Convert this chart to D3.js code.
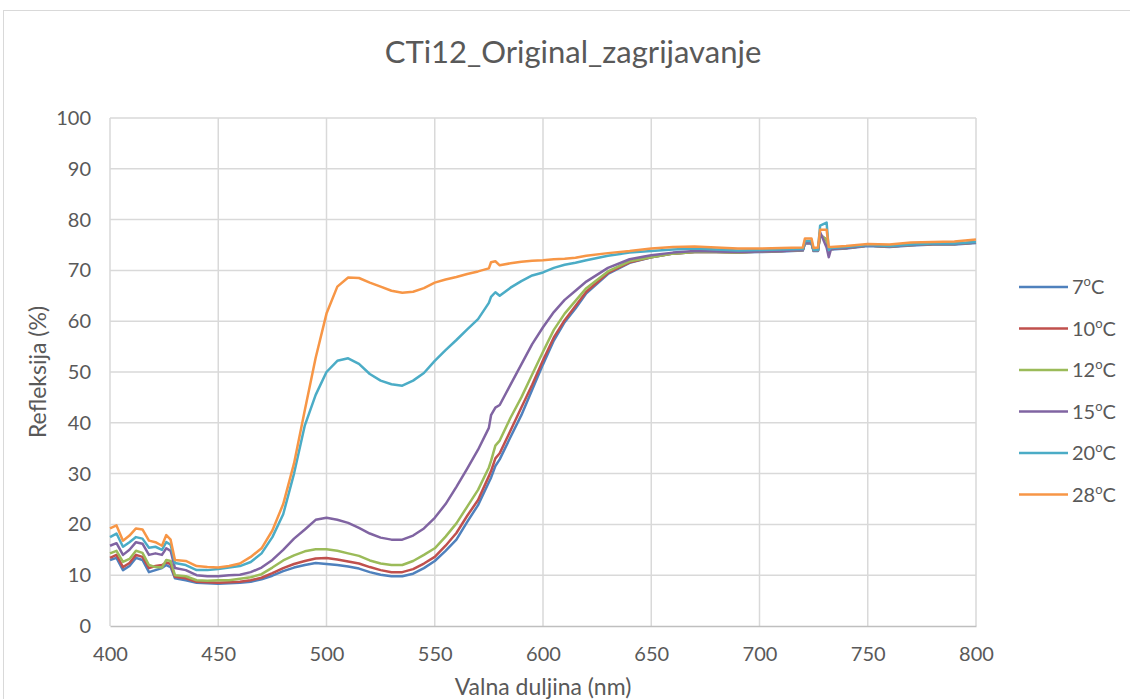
<!DOCTYPE html>
<html>
<head>
<meta charset="utf-8">
<script src="https://cdn.jsdelivr.net/npm/d3@7"></script>
<style>
  body { margin: 0; background: #fff; }
  text { font-family: Lato, "Open Sans", sans-serif; fill: #595959; }
</style>
</head>
<body>
<div id="chart"></div>
<script>
var wavelengths = [400, 403, 406, 409, 412, 415, 418, 421, 424, 426, 428, 430, 435, 440, 445, 450, 455, 460, 465, 470,
  475, 480, 485, 490, 495, 500, 505, 510, 515, 520, 525, 530, 535, 540, 545, 550, 555, 560, 565, 570,
  575, 576, 578, 580, 585, 590, 595, 600, 605, 610, 615, 620, 630, 640, 650, 660, 670, 680, 690, 700,
  710, 720, 721, 724, 725, 727, 728, 731, 732, 733, 740, 750, 760, 770, 780, 790, 800];

var t7 = [13.0, 13.4, 11.0, 11.8, 13.4, 13.0, 10.6, 11.0, 11.4, 12.0, 11.6, 9.4, 9.0, 8.5, 8.4, 8.3, 8.4, 8.5, 8.7, 9.2,
  9.9, 10.8, 11.5, 12.0, 12.4, 12.2, 12.0, 11.7, 11.3, 10.6, 10.1, 9.8, 9.8, 10.3, 11.4, 12.8, 14.8, 17.0, 20.5, 23.8,
  28.3, 29.2, 31.5, 32.8, 37.2, 41.5, 46.5, 51.5, 56.2, 59.8, 62.5, 65.5, 69.3, 71.5, 72.6, 73.3, 73.6, 73.6, 73.5, 73.6,
  73.7, 73.9, 75.3, 75.3, 73.8, 73.8, 77.0, 76.0, 74.0, 74.1, 74.3, 74.8, 74.6, 74.9, 75.1, 75.1, 75.4];

var t10 = [13.4, 14.0, 11.6, 12.4, 14.0, 13.6, 11.4, 11.8, 12.0, 12.5, 12.2, 9.7, 9.4, 8.7, 8.6, 8.5, 8.6, 8.7, 9.0, 9.5,
  10.4, 11.4, 12.2, 12.8, 13.3, 13.4, 13.1, 12.7, 12.3, 11.6, 11.0, 10.6, 10.6, 11.2, 12.3, 13.6, 15.8, 18.3, 21.7, 24.8,
  29.5, 30.5, 33.0, 34.0, 38.5, 43.0, 47.5, 52.3, 56.8, 60.2, 63.0, 65.8, 69.5, 71.6, 72.6, 73.3, 73.6, 73.6, 73.5, 73.7,
  73.8, 74.0, 75.4, 75.4, 73.9, 73.9, 77.0, 76.0, 74.0, 74.2, 74.4, 74.9, 74.7, 75.0, 75.2, 75.2, 75.5];

var t12 = [14.3, 14.8, 12.6, 13.2, 14.8, 14.4, 12.0, 11.6, 11.5, 13.0, 12.8, 10.0, 9.8, 9.0, 8.9, 9.0, 9.0, 9.3, 9.6, 10.2,
  11.5, 12.9, 13.9, 14.7, 15.1, 15.1, 14.8, 14.3, 13.8, 12.9, 12.3, 12.0, 12.0, 12.8, 14.0, 15.3, 17.6, 20.2, 23.5, 26.8,
  31.2, 32.5, 35.5, 36.5, 41.0, 45.0, 49.5, 54.0, 58.3, 61.5, 64.0, 66.5, 69.8, 71.8, 72.6, 73.3, 73.6, 73.6, 73.5, 73.7,
  73.8, 74.0, 75.5, 75.5, 73.9, 73.9, 77.0, 76.0, 74.0, 74.2, 74.4, 74.9, 74.7, 75.0, 75.2, 75.2, 75.5];

var t15 = [15.8, 16.3, 14.0, 15.0, 16.5, 16.2, 14.0, 14.3, 14.0, 15.3, 14.8, 11.4, 11.0, 10.0, 9.8, 9.8, 10.0, 10.1, 10.6, 11.5,
  13.0, 15.0, 17.2, 19.0, 20.9, 21.3, 20.9, 20.3, 19.3, 18.2, 17.4, 17.0, 17.0, 17.8, 19.2, 21.3, 24.0, 27.4, 31.0, 34.7,
  39.0, 41.5, 43.0, 43.5, 47.5, 51.5, 55.5, 58.8, 61.8, 64.2, 66.0, 67.8, 70.5, 72.2, 73.0, 73.5, 73.8, 73.7, 73.6, 73.7,
  73.8, 74.0, 75.5, 75.5, 73.9, 73.9, 77.5, 74.5, 72.6, 74.2, 74.4, 74.9, 74.7, 75.0, 75.2, 75.2, 75.5];

var t20 = [17.5, 18.2, 15.6, 16.5, 17.5, 17.2, 15.4, 15.6, 15.0, 16.5, 16.0, 12.4, 12.0, 11.0, 11.0, 11.2, 11.5, 11.8, 12.6, 14.3,
  17.5, 22.0, 30.0, 39.5, 45.5, 50.0, 52.2, 52.7, 51.6, 49.6, 48.3, 47.6, 47.3, 48.3, 49.8, 52.2, 54.3, 56.3, 58.4, 60.4,
  63.6, 64.8, 65.7, 65.0, 66.6, 67.9, 69.0, 69.6, 70.5, 71.1, 71.5, 72.0, 72.9, 73.5, 73.8, 74.1, 74.3, 74.1, 73.9, 74.0,
  74.1, 74.2, 75.8, 75.8, 74.0, 74.0, 78.8, 79.4, 74.0, 74.4, 74.6, 75.0, 74.8, 75.1, 75.3, 75.3, 75.6];

var t28 = [19.2, 19.8, 16.8, 17.8, 19.2, 19.0, 16.8, 16.5, 15.8, 17.9, 17.0, 13.0, 12.8, 11.8, 11.6, 11.5, 11.8, 12.3, 13.6, 15.3,
  18.8, 24.0, 32.0, 42.5, 52.8, 61.5, 66.8, 68.6, 68.5, 67.6, 66.8, 66.0, 65.6, 65.8, 66.5, 67.6, 68.2, 68.7, 69.3, 69.8,
  70.4, 71.6, 71.8, 71.0, 71.4, 71.7, 71.9, 72.0, 72.2, 72.3, 72.5, 72.9, 73.4, 73.8, 74.3, 74.6, 74.7, 74.5, 74.3, 74.3,
  74.4, 74.5, 76.3, 76.3, 74.4, 74.5, 78.0, 78.0, 74.6, 74.6, 74.8, 75.2, 75.1, 75.5, 75.6, 75.7, 76.1];

var seriesNames = ["7", "10", "12", "15", "20", "28"];
var seriesValues = [t7, t10, t12, t15, t20, t28];
var colors = ["#4F81BD", "#C0504D", "#9BBB59", "#8064A2", "#4BACC6", "#F79646"];

var xTicks = [400, 450, 500, 550, 600, 650, 700, 750, 800];
var yTicks = [0, 10, 20, 30, 40, 50, 60, 70, 80, 90, 100];

var W = 1130, H = 699;
var margin = {top: 118, right: 154, bottom: 73, left: 110},
  width = W - margin.left - margin.right,
  height = H - margin.top - margin.bottom;

var svg = d3.select("#chart").append("svg")
  .attr("width", W)
  .attr("height", H);

// chart frame
svg.append("rect")
  .attr("x", 3.5).attr("y", 10.5)
  .attr("width", W + 20).attr("height", H + 20)
  .attr("fill", "none")
  .attr("stroke", "#d9d9d9");

svg.append("text")
  .attr("x", 573).attr("y", 63)
  .attr("text-anchor", "middle")
  .style("font-size", "31px")
  .text("CTi12_Original_zagrijavanje");

var g = svg.append("g")
  .attr("transform", "translate(" + margin.left + "," + margin.top + ")");

var x = d3.scaleLinear().domain([400, 800]).range([0, width]);
var y = d3.scaleLinear().domain([0, 100]).range([height, 0]);

// gridlines
g.selectAll(".hgrid").data(yTicks.filter(function(d) { return d > 0; }))
  .enter().append("line")
  .attr("x1", 0).attr("x2", width)
  .attr("y1", function(d) { return y(d); }).attr("y2", function(d) { return y(d); })
  .attr("stroke", "#d9d9d9").attr("stroke-width", 1.5);

g.selectAll(".vgrid").data(xTicks)
  .enter().append("line")
  .attr("x1", function(d) { return x(d); }).attr("x2", function(d) { return x(d); })
  .attr("y1", 0).attr("y2", height)
  .attr("stroke", "#d9d9d9").attr("stroke-width", 1.5);

var xAxis = g.append("g")
  .attr("transform", "translate(0," + height + ")")
  .call(d3.axisBottom(x).tickValues(xTicks).tickSize(0).tickPadding(21));
xAxis.select(".domain").attr("stroke", "#bfbfbf").attr("stroke-width", 1.5);

var yAxis = g.append("g")
  .call(d3.axisLeft(y).tickValues(yTicks).tickSize(0).tickPadding(19));
yAxis.select(".domain").remove();

g.selectAll(".tick text")
  .style("font-size", "20px")
  .style("font-family", "Lato, 'Open Sans', sans-serif")
  .attr("fill", "#595959");

svg.append("text")
  .attr("x", margin.left + width / 2).attr("y", 695)
  .attr("text-anchor", "middle")
  .style("font-size", "23px")
  .text("Valna duljina (nm)");

svg.append("text")
  .attr("transform", "translate(46," + (margin.top + height / 2) + ") rotate(-90)")
  .attr("text-anchor", "middle")
  .style("font-size", "23px")
  .text("Refleksija (%)");

var line = d3.line()
  .x(function(d) { return x(d[0]); })
  .y(function(d) { return y(d[1]); });

seriesValues.forEach(function(vals, i) {
  var pts = wavelengths.map(function(w, j) { return [w, vals[j]]; });
  g.append("path")
    .datum(pts)
    .attr("d", line)
    .attr("fill", "none")
    .attr("stroke", colors[i])
    .attr("stroke-width", 2.5)
    .attr("stroke-linejoin", "round");
});

// legend
var legend = svg.selectAll(".legend")
  .data(seriesNames)
  .enter().append("g")
  .attr("class", "legend")
  .attr("transform", function(d, i) { return "translate(1019," + (287 + i * 41.5) + ")"; });

legend.append("line")
  .attr("x1", 0).attr("x2", 49)
  .attr("stroke", function(d, i) { return colors[i]; })
  .attr("stroke-width", 2.5);

var lt = legend.append("text")
  .attr("x", 53).attr("y", 7)
  .style("font-size", "20px");
lt.append("tspan").text(function(d) { return d; });
lt.append("tspan").attr("dy", -8).style("font-size", "13px").text("o");
lt.append("tspan").attr("dy", 8).text("C");
</script>
</body>
</html>
